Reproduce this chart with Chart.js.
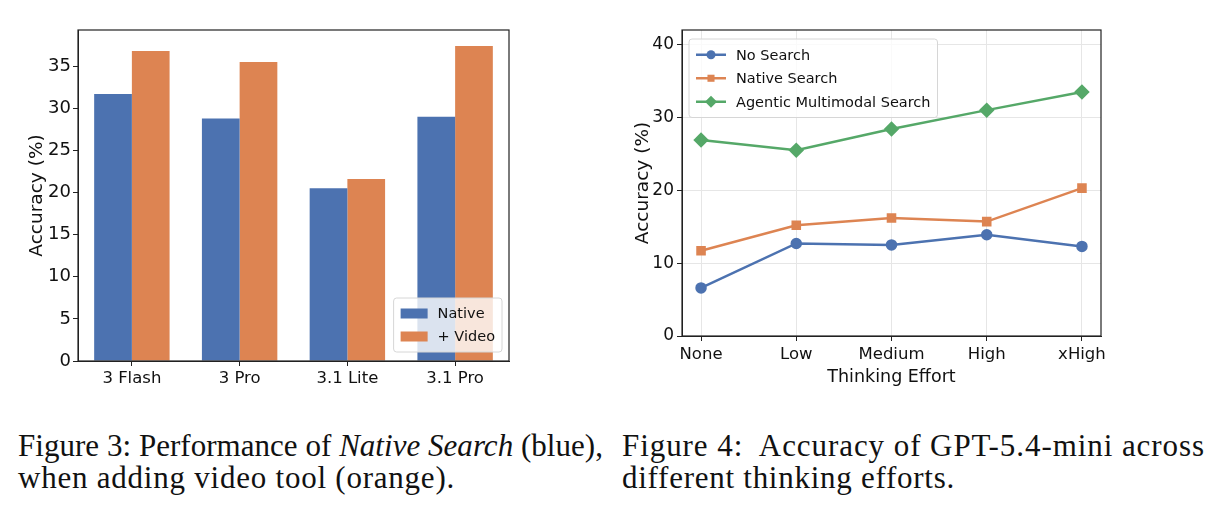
<!DOCTYPE html>
<html>
<head>
<meta charset="utf-8">
<script src="https://cdn.jsdelivr.net/npm/chart.js@4.4.1/dist/chart.umd.min.js"></script>
<style>
  body { margin: 0; background: #fff; width: 1209px; height: 513px; position: relative; overflow: hidden; }
  .box { position: absolute; top: 0; }
  .cap { position: absolute; font-family: "Liberation Serif", "DejaVu Serif", serif;
         font-size: 31px; line-height: 32px; color: #111; white-space: nowrap; }
</style>
</head>
<body>
<div class="box" style="left:0px"><canvas id="barChart" width="600" height="410"></canvas></div>
<div class="box" style="left:600px"><canvas id="lineChart" width="609" height="410"></canvas></div>
<div class="cap" style="left:18px; top:430px" data-w="585">Figure 3: Performance of <i>Native Search</i> (blue),</div>
<div class="cap" style="left:18px; top:462px" data-w="437">when adding video tool (orange).</div>
<div class="cap" style="left:622px; top:430px" data-w="583">Figure 4:&nbsp; Accuracy of GPT-5.4-mini across</div>
<div class="cap" style="left:622px; top:462px" data-w="333">different thinking efforts.</div>

<script>
// Figure 3 data
let models = ["3 Flash", "3 Pro", "3.1 Lite", "3.1 Pro"];
let nativeAcc = [31.7, 28.8, 20.5, 29.0];
let videoAcc = [36.8, 35.5, 21.6, 37.4];
let barYTicks = [0, 5, 10, 15, 20, 25, 30, 35];

// Figure 4 data
let efforts = ["None", "Low", "Medium", "High", "xHigh"];
let noSearch = [6.6, 12.7, 12.5, 13.9, 12.3];
let nativeSearch = [11.7, 15.2, 16.2, 15.7, 20.3];
let agenticSearch = [26.9, 25.5, 28.4, 31.0, 33.5];
let lineYTicks = [0, 10, 20, 30, 40];

const BLUE = "#4c72b0", ORANGE = "#dd8452", GREEN = "#55a868";
const FONT = "'DejaVu Sans', sans-serif";
Chart.defaults.font.family = FONT;
Chart.defaults.color = "#111";

// stretch caption lines to the widths of the paper's columns
document.querySelectorAll(".cap").forEach(el => {
    let n = el.textContent.length;
    let natural = el.getBoundingClientRect().width;
    el.style.letterSpacing = ((+el.dataset.w - natural) / n) + "px";
});

// black box round the plot area, like matplotlib
const frame = {
    id: "frame",
    afterDraw(chart) {
        let a = chart.chartArea, ctx = chart.ctx;
        ctx.save();
        ctx.strokeStyle = "#222";
        ctx.lineWidth = 1.2;
        ctx.strokeRect(a.left, a.top, a.right - a.left, a.bottom - a.top);
        ctx.restore();
    }
};

// legend drawn inside the axes
const innerLegend = {
    id: "innerLegend",
    afterDraw(chart, args, opts) {
        let ctx = chart.ctx, a = chart.chartArea;
        let sets = chart.data.datasets;
        ctx.save();
        ctx.font = "14.5px " + FONT;
        let textW = Math.max(...sets.map(d => ctx.measureText(d.label).width));
        let w = 7 + opts.keyW + 10 + textW + 7;
        let h = 8 + sets.length * opts.rowH;
        let x = opts.corner === "br" ? a.right - opts.dx - w : a.left + opts.dx;
        let y = opts.corner === "br" ? a.bottom - opts.dy - h : a.top + opts.dy;
        ctx.beginPath();
        ctx.roundRect(x, y, w, h, 3);
        ctx.fillStyle = "rgba(255,255,255,0.8)";
        ctx.fill();
        ctx.strokeStyle = "#d6d6d6";
        ctx.lineWidth = 1;
        ctx.stroke();
        sets.forEach((d, i) => {
            let cy = y + 4 + opts.rowH * (i + 0.5);
            let kx = x + 7;
            if (opts.kind === "bar") {
                ctx.fillStyle = d.backgroundColor;
                ctx.fillRect(kx, cy - 5, opts.keyW, 10);
            } else {
                ctx.strokeStyle = d.borderColor;
                ctx.lineWidth = d.borderWidth;
                ctx.beginPath();
                ctx.moveTo(kx, cy);
                ctx.lineTo(kx + opts.keyW, cy);
                ctx.stroke();
                ctx.fillStyle = d.borderColor;
                Chart.helpers.drawPoint(ctx, { pointStyle: d.pointStyle, radius: d.pointRadius, rotation: 0, borderWidth: 0 }, kx + opts.keyW / 2, cy);
            }
            ctx.fillStyle = "#111";
            ctx.textBaseline = "middle";
            ctx.fillText(d.label, kx + opts.keyW + 10, cy + 1);
        });
        ctx.restore();
    }
};

new Chart(document.getElementById("barChart"), {
    type: "bar",
    data: {
        labels: models,
        datasets: [
            { label: "Native", data: nativeAcc, backgroundColor: BLUE },
            { label: "+ Video", data: videoAcc, backgroundColor: ORANGE }
        ]
    },
    options: {
        responsive: false,
        animation: false,
        devicePixelRatio: 1,
        layout: { padding: { left: 26, right: 91, top: 30, bottom: 0 } },
        categoryPercentage: 0.7,
        barPercentage: 1.0,
        plugins: {
            legend: { display: false },
            tooltip: { enabled: false },
            innerLegend: { corner: "br", dx: 7, dy: 9, keyW: 27, rowH: 23, kind: "bar" }
        },
        scales: {
            x: {
                grid: { offset: false, drawOnChartArea: false, tickLength: 5, tickColor: "#222", color: "#222" },
                border: { color: "#222" },
                ticks: { font: { size: 16.5 }, padding: 3, color: "#111" },
                afterFit: s => { s.height = 49; }
            },
            y: {
                min: 0, max: 39.3,
                grid: { drawOnChartArea: false, tickLength: 5, tickColor: "#222", color: "#222" },
                border: { color: "#222" },
                ticks: { font: { size: 18 }, padding: 2, color: "#111" },
                afterBuildTicks: s => { s.ticks = barYTicks.map(v => ({ value: v })); },
                title: { display: true, text: "Accuracy (%)", font: { size: 18.5 }, padding: 0, color: "#111" },
                afterFit: s => { s.width = 52; }
            }
        }
    },
    plugins: [frame, innerLegend]
});

function series(vals) {
    return vals.map((v, i) => ({ x: i, y: v }));
}

new Chart(document.getElementById("lineChart"), {
    type: "line",
    data: {
        datasets: [
            { label: "No Search", data: series(noSearch), borderColor: BLUE, backgroundColor: BLUE,
              borderWidth: 2.5, pointStyle: "circle", pointRadius: 4.5 },
            { label: "Native Search", data: series(nativeSearch), borderColor: ORANGE, backgroundColor: ORANGE,
              borderWidth: 2.5, pointStyle: "rect", pointRadius: 5 },
            { label: "Agentic Multimodal Search", data: series(agenticSearch), borderColor: GREEN, backgroundColor: GREEN,
              borderWidth: 2.5, pointStyle: "rectRot", pointRadius: 6 }
        ]
    },
    options: {
        responsive: false,
        animation: false,
        devicePixelRatio: 1,
        layout: { padding: { left: 32, right: 108, top: 30, bottom: 22 } },
        elements: { point: { borderWidth: 0 } },
        plugins: {
            legend: { display: false },
            tooltip: { enabled: false },
            innerLegend: { corner: "tl", dx: 7, dy: 9, keyW: 30, rowH: 23.5, kind: "line" }
        },
        scales: {
            x: {
                type: "linear", min: -0.2, max: 4.2,
                grid: { color: "#e6e6e6", tickLength: 5, tickColor: "#222" },
                border: { color: "#222" },
                ticks: { font: { size: 16.5 }, padding: 4, color: "#111", callback: v => efforts[v] },
                afterBuildTicks: s => { s.ticks = efforts.map((e, i) => ({ value: i })); },
                title: { display: true, text: "Thinking Effort", font: { size: 17.5 }, padding: 0, color: "#111" },
                afterFit: s => { s.height = 52; }
            },
            y: {
                min: 0, max: 42,
                grid: { color: "#e6e6e6", tickLength: 5, tickColor: "#222" },
                border: { color: "#222" },
                ticks: { font: { size: 17 }, padding: 3, color: "#111" },
                afterBuildTicks: s => { s.ticks = lineYTicks.map(v => ({ value: v })); },
                title: { display: true, text: "Accuracy (%)", font: { size: 18.5 }, padding: 0, color: "#111" },
                afterFit: s => { s.width = 50; }
            }
        }
    },
    plugins: [frame, innerLegend]
});
</script>
</body>
</html>
